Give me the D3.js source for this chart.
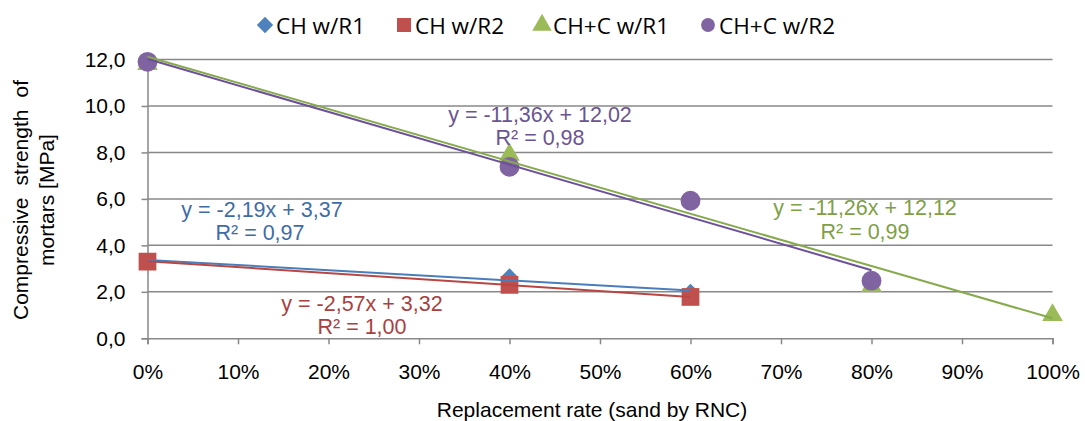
<!DOCTYPE html>
<html><head><meta charset="utf-8">
<script src="https://cdn.jsdelivr.net/npm/d3@7"></script>
<style>
html,body{margin:0;padding:0;background:#fff;}
svg{display:block;}
</style></head>
<body>
<svg id="chart" width="1085" height="421"></svg>
<script>
// ---- data ----
const xTicks = [0,0.1,0.2,0.3,0.4,0.5,0.6,0.7,0.8,0.9,1.0];
const yTicks = [0,2,4,6,8,10,12];
const seriesNames = ["CH w/R1","CH w/R2","CH+C w/R1","CH+C w/R2"];
const xCH_R1 = [0,0.4,0.6];
const yCH_R1 = [3.32,2.64,1.98];
const xCH_R2 = [0,0.4,0.6];
const yCH_R2 = [3.30,2.30,1.78];
const xCHC_R1 = [0,0.4,0.8,1.0];
const yCHC_R1 = [11.8,7.9,2.25,1.0];
const xCHC_R2 = [0,0.4,0.6,0.8];
const yCHC_R2 = [11.9,7.38,5.92,2.48];
const trendSlope = [-2.19,-2.57,-11.26,-11.36];
const trendIntercept = [3.37,3.32,12.12,12.02];
const trendEq = ["y = -2,19x + 3,37","y = -2,57x + 3,32","y = -11,26x + 12,12","y = -11,36x + 12,02"];
const trendR2 = ["R² = 0,97","R² = 1,00","R² = 0,99","R² = 0,98"];

// ---- styles ----
const markerColors = ["#4F81BD","#C0504D","#9BBB59","#8064A2"];
const lineColors = ["#4A7EBB","#B84744","#86AA4C","#6C519A"];
const textColors = ["#3F6CA6","#A8413F","#7FA045","#6A5591"];
const symbols = [d3.symbolDiamond2 || d3.symbolDiamond, d3.symbolSquare, d3.symbolTriangle, d3.symbolCircle];
const symSizes = [190, 315, 185, 310];
const labelPos = [ // pixel centers of the two label lines
  [[262,210],[260,233]],
  [[362,304],[362,327]],
  [[865,208],[865,232]],
  [[540,115],[540,138]]
];

const xs = [xCH_R1,xCH_R2,xCHC_R1,xCHC_R2];
const ys = [yCH_R1,yCH_R2,yCHC_R1,yCHC_R2];

const svg = d3.select("#chart");
const x = d3.scaleLinear().domain([0,1]).range([147.5,1052.5]);
const y = d3.scaleLinear().domain([0,12]).range([338.3,59.5]);
const font = "'Liberation Sans', Arial, sans-serif";
const fs = 21;
const gridCol = "#888888";

// gridlines
svg.append("g").selectAll("line").data(yTicks.filter(d=>d>0)).join("line")
  .attr("x1",x(0)).attr("x2",x(1)).attr("y1",d=>y(d)).attr("y2",d=>y(d))
  .attr("stroke",gridCol).attr("stroke-width",1.5);

// y axis
const yAxis = svg.append("g").attr("transform",`translate(${x(0)},0)`)
  .call(d3.axisLeft(y).tickValues(yTicks).tickSize(6).tickPadding(16)
    .tickFormat(d=>d3.format(".1f")(d).replace(".",",")));
yAxis.select(".domain").attr("stroke",gridCol).attr("stroke-width",1.5);
yAxis.selectAll(".tick line").attr("stroke",gridCol).attr("stroke-width",1.5);
yAxis.selectAll("text").attr("font-family",font).attr("font-size",fs).attr("fill","#000");

// x axis
const xAxis = svg.append("g").attr("transform",`translate(0,${y(0)})`)
  .call(d3.axisBottom(x).tickValues(xTicks).tickSize(6).tickPadding(20)
    .tickFormat(d=>Math.round(d*100)+"%"));
xAxis.select(".domain").attr("stroke",gridCol).attr("stroke-width",1.5);
xAxis.selectAll(".tick line").attr("stroke",gridCol).attr("stroke-width",1.5);
xAxis.selectAll("text").attr("font-family",font).attr("font-size",fs).attr("fill","#000");

// axis titles
svg.append("text").attr("x",592).attr("y",409).attr("text-anchor","middle")
  .attr("dominant-baseline","central")
  .attr("font-family",font).attr("font-size",fs).text("Replacement rate (sand by RNC)");

function justified(txt, cx, cy, len){
  const t = svg.append("text").attr("transform",`translate(${cx},${cy}) rotate(-90)`)
    .attr("text-anchor","middle").attr("dominant-baseline","central")
    .attr("font-family",font).attr("font-size",fs).text(txt);
  const w = t.node().getComputedTextLength();
  const spaces = (txt.match(/ /g)||[]).length;
  if (len && spaces>0 && len>w) t.attr("word-spacing",(len-w)/spaces);
}
justified("Compressive strength of",20,200,240);
justified("mortars [MPa]",46,200,null);

// markers
for (let i=0;i<4;i++){
  svg.append("g").selectAll("path").data(xs[i].map((v,j)=>[v,ys[i][j]])).join("path")
    .attr("transform",d=>`translate(${x(d[0])},${y(d[1])})`)
    .attr("d",d3.symbol().type(symbols[i]).size(symSizes[i]))
    .attr("fill",markerColors[i]);
}

// trendlines
for (let i=0;i<4;i++){
  const x0 = d3.min(xs[i]), x1 = d3.max(xs[i]);
  svg.append("line")
    .attr("x1",x(x0)).attr("y1",y(trendSlope[i]*x0+trendIntercept[i]))
    .attr("x2",x(x1)).attr("y2",y(trendSlope[i]*x1+trendIntercept[i]))
    .attr("stroke",lineColors[i]).attr("stroke-width",2);
}

// trend labels
for (let i=0;i<4;i++){
  [trendEq[i],trendR2[i]].forEach((t,k)=>{
    svg.append("text").attr("x",labelPos[i][k][0]).attr("y",labelPos[i][k][1])
      .attr("text-anchor","middle").attr("dominant-baseline","central")
      .attr("font-family",font).attr("font-size",21.5).attr("fill",textColors[i]).text(t);
  });
}

// legend
const legX = [265,404,542,708];
const legFont = "'Open Sans', 'Noto Sans', sans-serif";
const legSizes = [170,196,165,150];
seriesNames.forEach((n,i)=>{
  svg.append("path").attr("transform",`translate(${legX[i]},25)`)
    .attr("d",d3.symbol().type(symbols[i]).size(legSizes[i])).attr("fill",markerColors[i]);
  svg.append("text").attr("x",legX[i]+11).attr("y",25)
    .attr("dominant-baseline","central").attr("font-family",legFont).attr("font-size",22.5)
    .attr("fill","#000").text(n);
});
</script>
</body></html>
